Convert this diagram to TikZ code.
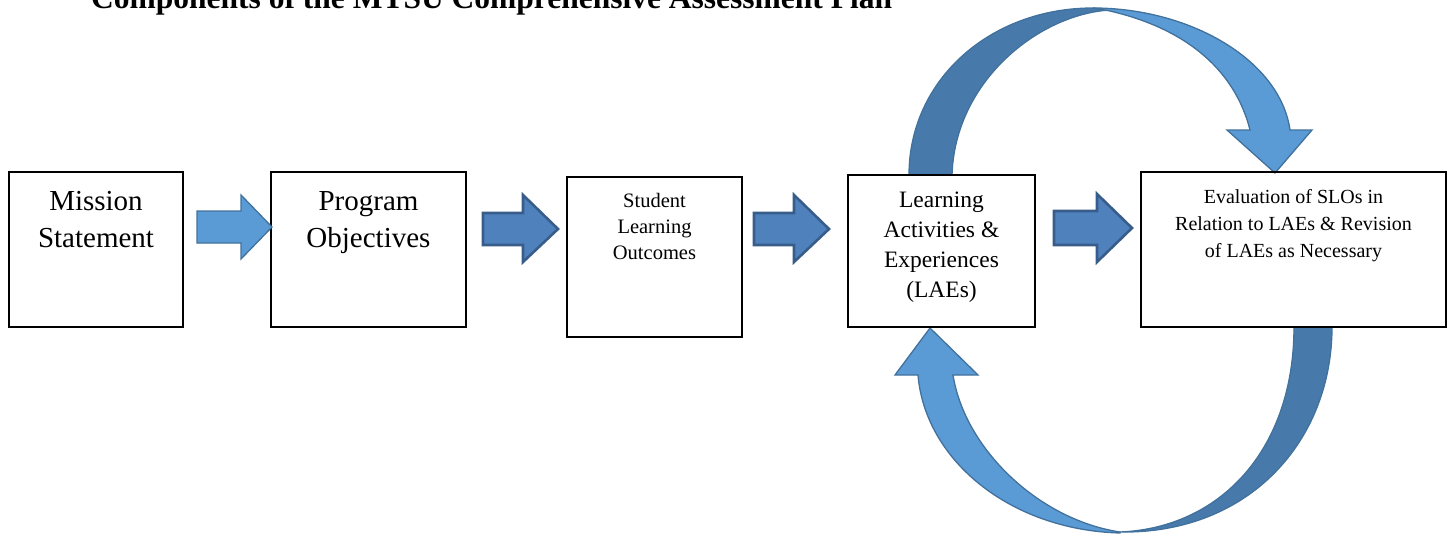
\documentclass[tikz,border=0pt]{standalone}
\usepackage{fontspec}
\setmainfont{Liberation Serif}
\usetikzlibrary{positioning}
\definecolor{lightblue}{HTML}{5B9BD5}
\definecolor{lightedge}{HTML}{41719C}
\definecolor{midblue}{HTML}{4F81BD}
\definecolor{darkedge}{HTML}{385D8A}
\definecolor{shadeblue}{HTML}{477AAB}

\begin{document}
\begin{tikzpicture}[x=1pt,y=-1pt,
  box/.style={draw, line width=1.1pt, inner sep=0pt},
  txt/.style={align=center, inner sep=0pt},
  lightarrow/.style={fill=lightblue, draw=lightedge, line width=1.3pt, line join=miter},
  darkarrow/.style={fill=midblue, draw=darkedge, line width=2.6pt, line join=miter},
  shadearrow/.style={fill=shadeblue, draw=lightedge, line width=1.3pt}]
\useasboundingbox (0,0) rectangle (1449,535);

% title, cut off at the top of the page
\node[anchor=base west, inner sep=0pt, font=\bfseries\fontsize{31.5}{31.5}\selectfont] (title) at (91,9) {Components of the MTSU Comprehensive Assessment Plan};

% curved arrows
\draw[shadearrow] (909,175) .. controls (909,80) and (990,8) .. (1093,8) -- (1110,10)
  .. controls (1040,14) and (955,80) .. (952,175) -- cycle;
\draw[lightarrow] (1093,8) .. controls (1190,8) and (1280,60) .. (1290,130) -- (1312,130) -- (1275,173) -- (1227,130) -- (1250,130)
  .. controls (1238,82) and (1200,32) .. (1110,11) -- cycle;
\draw[shadearrow] (1294,327) .. controls (1294,450) and (1220,528) .. (1120,532)
  .. controls (1250,534) and (1332,440) .. (1332,327) -- cycle;
\draw[lightarrow] (1120,533) .. controls (1010,530) and (925,460) .. (918,375) -- (895,375) -- (930,328) -- (978,375) -- (953,375)
  .. controls (965,450) and (1040,520) .. (1120,532) -- cycle;

% boxes
\node[box, minimum width=174pt, minimum height=155pt] (mission) at (96,249.5) {};
\node[txt, font=\fontsize{29}{37}\selectfont, below=20pt of mission.north] (missiontxt) {Mission\\Statement};
\node[box, minimum width=195pt, minimum height=155pt] (program) at (368.5,249.5) {};
\node[txt, font=\fontsize{29}{37}\selectfont, below=20pt of program.north] (programtxt) {Program\\Objectives};
\node[box, minimum width=175pt, minimum height=160pt] (slo) at (654.5,257) {};
\node[txt, font=\fontsize{20.5}{26}\selectfont, below=17pt of slo.north] (slotxt) {Student\\Learning\\Outcomes};
\node[box, minimum width=187pt, minimum height=152pt] (lae) at (941.5,251) {};
\node[txt, font=\fontsize{23.5}{30}\selectfont, below=17pt of lae.north] (laetxt) {Learning\\Activities \&\\Experiences\\(LAEs)};
\node[box, minimum width=305pt, minimum height=155pt] (eval) at (1293.5,249.5) {};
\node[txt, font=\fontsize{20}{27}\selectfont, below=18pt of eval.north] (evaltxt) {Evaluation of SLOs in\\Relation to LAEs \& Revision\\of LAEs as Necessary};

% block arrows
\draw[lightarrow] (197,211) -- (241,211) -- (241,195) -- (272,227) -- (241,259) -- (241,243) -- (197,243) -- cycle;
\draw[darkarrow] (483,213) -- (523,213) -- (523,195) -- (558,229) -- (523,262) -- (523,245) -- (483,245) -- cycle;
\draw[darkarrow] (754,213) -- (794,213) -- (794,195) -- (829,229) -- (794,262) -- (794,245) -- (754,245) -- cycle;
\draw[darkarrow] (1054,211) -- (1097,211) -- (1097,194) -- (1132,228) -- (1097,262) -- (1097,245) -- (1054,245) -- cycle;
\end{tikzpicture}
\end{document}
